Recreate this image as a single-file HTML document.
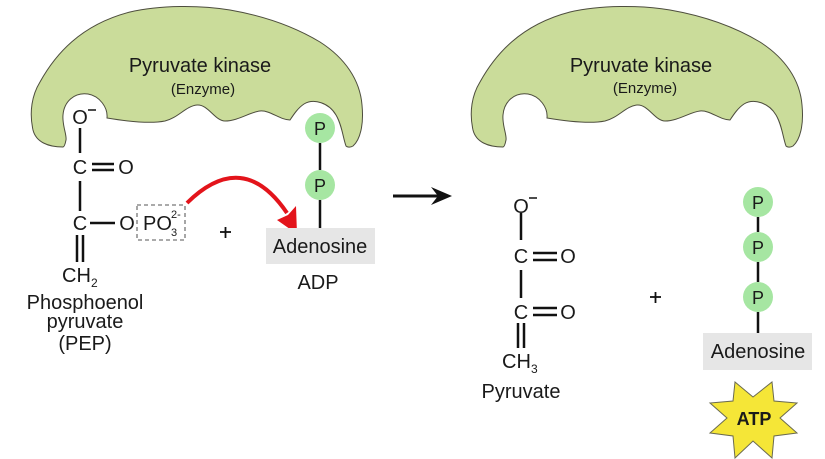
<!DOCTYPE html>
<html>
<head>
<meta charset="utf-8">
<style>
  html,body{margin:0;padding:0;background:#fff;}
  svg{display:block;}
  text{font-family:"Liberation Sans",Arial,sans-serif;fill:#1a1a1a;}
</style>
</head>
<body>
<svg width="825" height="459" viewBox="0 0 825 459" xmlns="http://www.w3.org/2000/svg">
  <defs>
    <path id="enz" d="M 63,147
      C 48,147 36,142 33,130
      C 29,112 32,95 40,82
      C 55,55 80,25 130,12
      C 160,5 200,5 230,10
      C 270,17 300,30 320,42
      C 345,58 360,80 362,105
      C 364,125 360,140 353,146
      C 350,148 347,147 346,146
      C 343,138 342,125 336,115
      C 329,103 314,98 304,104
      C 298,108 294,114 290,120
      C 280,120 270,110 260,111
      C 250,112 238,121 225,121
      C 215,121 208,104 197,105
      C 186,106 178,118 165,121
      C 150,124 125,121 107,118
      C 108,108 100,96 88,94
      C 74,92 64,102 63,115
      C 62,125 67,135 66,140
      C 65,145 64,147 63,147 Z"/>
  </defs>

  <!-- Enzymes -->
  <use href="#enz" fill="#cadc9a" stroke="#4d4d3d" stroke-width="1"/>
  <use href="#enz" transform="translate(440,0)" fill="#cadc9a" stroke="#4d4d3d" stroke-width="1"/>

  <text x="200" y="72" font-size="20" text-anchor="middle">Pyruvate kinase</text>
  <text x="203" y="94" font-size="15" text-anchor="middle">(Enzyme)</text>
  <text x="641" y="72" font-size="20" text-anchor="middle">Pyruvate kinase</text>
  <text x="645" y="93" font-size="15" text-anchor="middle">(Enzyme)</text>

  <!-- PEP -->
  <g stroke="#111" stroke-width="2.5" fill="none">
    <line x1="80" y1="128" x2="80" y2="153"/>
    <line x1="92" y1="164" x2="114" y2="164"/>
    <line x1="92" y1="170" x2="114" y2="170"/>
    <line x1="80" y1="181" x2="80" y2="211"/>
    <line x1="90" y1="223" x2="115" y2="223"/>
    <line x1="77" y1="235" x2="77" y2="262"/>
    <line x1="83" y1="235" x2="83" y2="262"/>
  </g>
  <line x1="88" y1="110" x2="96" y2="110" stroke="#111" stroke-width="1.5"/>
  <text x="80" y="124" font-size="20" text-anchor="middle">O</text>
  <text x="80" y="174" font-size="20" text-anchor="middle">C</text>
  <text x="126" y="174" font-size="20" text-anchor="middle">O</text>
  <text x="80" y="230" font-size="20" text-anchor="middle">C</text>
  <text x="127" y="230" font-size="20" text-anchor="middle">O</text>
  <rect x="137" y="205" width="48" height="35" fill="none" stroke="#777" stroke-width="1.3" stroke-dasharray="4,3"/>
  <text x="143" y="230" font-size="20">PO</text>
  <text x="171" y="218" font-size="11">2-</text>
  <text x="171" y="236" font-size="11">3</text>
  <text x="62" y="282" font-size="20">CH</text>
  <text x="91" y="287" font-size="12">2</text>
  <text x="85" y="309" font-size="20" text-anchor="middle">Phosphoenol</text>
  <text x="85" y="328" font-size="20" text-anchor="middle">pyruvate</text>
  <text x="85" y="350" font-size="20" text-anchor="middle">(PEP)</text>

  <!-- plus signs -->
  <g stroke="#111" stroke-width="1.8">
    <line x1="220" y1="232" x2="231" y2="232"/>
    <line x1="225.5" y1="227" x2="225.5" y2="238"/>
    <line x1="650" y1="297" x2="661" y2="297"/>
    <line x1="655.5" y1="292" x2="655.5" y2="303"/>
  </g>

  <!-- red arrow -->
  <path d="M187,203 Q243,148 287,213" fill="none" stroke="#e3141b" stroke-width="4"/>
  <polygon points="297,234 277,220 288,215 296,206" fill="#e3141b"/>

  <!-- ADP -->
  <g stroke="#111" stroke-width="2.5">
    <line x1="320" y1="143" x2="320" y2="170"/>
    <line x1="320" y1="200" x2="320" y2="228"/>
  </g>
  <circle cx="320" cy="128" r="15" fill="#a6e6a2"/>
  <circle cx="320" cy="185" r="15" fill="#a6e6a2"/>
  <text x="320" y="135" font-size="18" text-anchor="middle">P</text>
  <text x="320" y="192" font-size="18" text-anchor="middle">P</text>
  <rect x="266" y="228" width="109" height="36" fill="#e6e6e6"/>
  <text x="320" y="253" font-size="20" text-anchor="middle">Adenosine</text>
  <text x="318" y="289" font-size="20" text-anchor="middle">ADP</text>

  <!-- main arrow -->
  <line x1="393" y1="196" x2="440" y2="196" stroke="#111" stroke-width="3"/>
  <polygon points="452,196 431,187 438,196 431,205" fill="#111"/>

  <!-- Pyruvate -->
  <g stroke="#111" stroke-width="2.5" fill="none">
    <line x1="521" y1="213" x2="521" y2="240"/>
    <line x1="533" y1="253" x2="557" y2="253"/>
    <line x1="533" y1="260" x2="557" y2="260"/>
    <line x1="521" y1="270" x2="521" y2="298"/>
    <line x1="533" y1="308" x2="557" y2="308"/>
    <line x1="533" y1="315" x2="557" y2="315"/>
    <line x1="518" y1="323" x2="518" y2="348"/>
    <line x1="524" y1="323" x2="524" y2="348"/>
  </g>
  <line x1="529" y1="198" x2="537" y2="198" stroke="#111" stroke-width="1.5"/>
  <text x="521" y="213" font-size="20" text-anchor="middle">O</text>
  <text x="521" y="263" font-size="20" text-anchor="middle">C</text>
  <text x="568" y="263" font-size="20" text-anchor="middle">O</text>
  <text x="521" y="319" font-size="20" text-anchor="middle">C</text>
  <text x="568" y="319" font-size="20" text-anchor="middle">O</text>
  <text x="502" y="368" font-size="20">CH</text>
  <text x="531" y="373" font-size="12">3</text>
  <text x="521" y="398" font-size="20" text-anchor="middle">Pyruvate</text>

  <!-- ATP -->
  <g stroke="#111" stroke-width="2.5">
    <line x1="758" y1="217" x2="758" y2="232"/>
    <line x1="758" y1="262" x2="758" y2="282"/>
    <line x1="758" y1="312" x2="758" y2="333"/>
  </g>
  <circle cx="758" cy="202" r="15" fill="#a6e6a2"/>
  <circle cx="758" cy="247" r="15" fill="#a6e6a2"/>
  <circle cx="758" cy="297" r="15" fill="#a6e6a2"/>
  <text x="758" y="209" font-size="18" text-anchor="middle">P</text>
  <text x="758" y="254" font-size="18" text-anchor="middle">P</text>
  <text x="758" y="304" font-size="18" text-anchor="middle">P</text>
  <rect x="703" y="333" width="109" height="37" fill="#e6e6e6"/>
  <text x="758" y="358" font-size="20" text-anchor="middle">Adenosine</text>

  <polygon points="735,382 753,397 772,382 774,401 797,403 780,418 797,433 774,436 772,458 753,441 735,458 733,436 710,433 727,418 710,403 733,401"
    fill="#f5e637" stroke="#6a6a50" stroke-width="1"/>
  <text x="754" y="425" font-size="18" font-weight="bold" text-anchor="middle" fill="#111">ATP</text>
</svg>
</body>
</html>
